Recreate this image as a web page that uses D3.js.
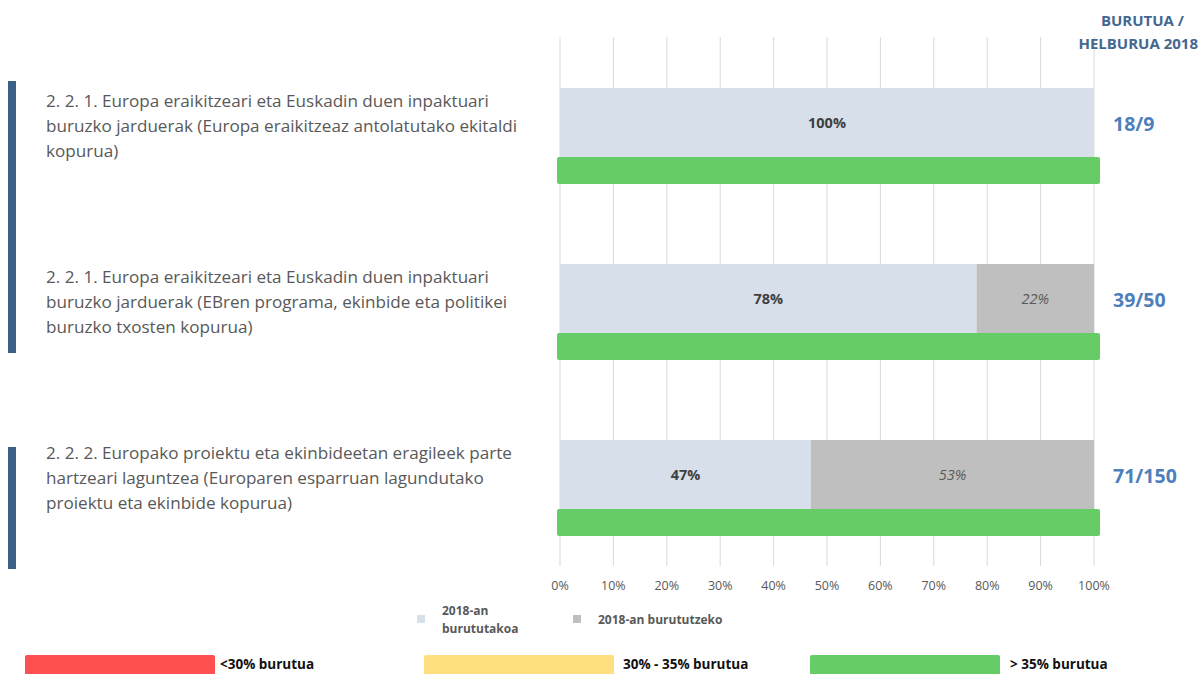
<!DOCTYPE html>
<html>
<head>
<meta charset="utf-8">
<script src="https://cdn.jsdelivr.net/npm/d3@7"></script>
<style>
  body { margin: 0; background: #fff; }
  svg { display: block; font-family: "Open Sans", sans-serif; }
</style>
</head>
<body>
<svg id="chart" width="1201" height="674"></svg>
<script>
// data
var labels = [
  ["2. 2. 1. Europa eraikitzeari eta Euskadin duen inpaktuari",
   "buruzko jarduerak (Europa eraikitzeaz antolatutako ekitaldi",
   "kopurua)"],
  ["2. 2. 1. Europa eraikitzeari eta Euskadin duen inpaktuari",
   "buruzko jarduerak (EBren programa, ekinbide eta politikei",
   "buruzko txosten kopurua)"],
  ["2. 2. 2. Europako proiektu eta ekinbideetan eragileek parte",
   "hartzeari laguntzea (Europaren esparruan lagundutako",
   "proiektu eta ekinbide kopurua)"]
];
var done = [100, 78, 47];
var todo = [0, 22, 53];
var ratio = ["18/9", "39/50", "71/150"];
var ticks = [0, 10, 20, 30, 40, 50, 60, 70, 80, 90, 100];
var groups = [[0, 1], [2, 2]];   // left bars spanning rows
var statusNames = ["<30% burutua", "30% - 35% burutua", "> 35% burutua"];
var statusColors = ["#ff5050", "#ffdf80", "#66cc66"];

var svg = d3.select("#chart");

var x = d3.scaleLinear().domain([0, 100]).range([560, 1094]);
var y = d3.scaleBand().domain(d3.range(3)).range([88, 616]);
var barH = 69, greenH = 27;

// gridlines
svg.append("g").selectAll("line").data(ticks).join("line")
  .attr("x1", function(d){ return x(d); }).attr("x2", function(d){ return x(d); })
  .attr("y1", 37).attr("y2", 566)
  .attr("stroke", "#d9d9d9").attr("stroke-width", 1);

// tick labels
svg.append("g").selectAll("text").data(ticks).join("text")
  .attr("x", function(d){ return x(d); }).attr("y", 590)
  .attr("text-anchor", "middle").attr("font-size", 12.5).attr("fill", "#595959")
  .text(function(d){ return d + "%"; });

var rows = svg.append("g").selectAll("g").data(d3.range(3)).join("g")
  .attr("transform", function(i){ return "translate(0," + y(i) + ")"; });

rows.append("rect")
  .attr("x", x(0)).attr("y", 0)
  .attr("width", function(i){ return x(done[i]) - x(0); })
  .attr("height", barH).attr("fill", "#d6dfea");

rows.append("rect")
  .attr("x", function(i){ return x(done[i]); }).attr("y", 0)
  .attr("width", function(i){ return x(done[i] + todo[i]) - x(done[i]); })
  .attr("height", barH).attr("fill", "#bfbfbf");

rows.append("text")
  .attr("x", function(i){ return (x(0) + x(done[i])) / 2; }).attr("y", barH / 2 + 5)
  .attr("text-anchor", "middle").attr("font-size", 14.5).attr("font-weight", "bold")
  .attr("fill", "#404040")
  .text(function(i){ return done[i] + "%"; });

rows.filter(function(i){ return todo[i] > 0; }).append("text")
  .attr("x", function(i){ return (x(done[i]) + x(100)) / 2; }).attr("y", barH / 2 + 5)
  .attr("text-anchor", "middle").attr("font-size", 14.5).attr("font-style", "italic")
  .attr("fill", "#595959")
  .text(function(i){ return todo[i] + "%"; });

// status bar (all > 35%)
rows.append("rect")
  .attr("x", x(0) - 3).attr("y", barH)
  .attr("width", x(100) - x(0) + 9).attr("height", greenH)
  .attr("rx", 2).attr("fill", statusColors[2]);

rows.append("text")
  .attr("x", 1113).attr("y", barH / 2 + 8)
  .attr("font-size", 19.5).attr("font-weight", "bold")
  .attr("fill", "#4f7fba")
  .text(function(i){ return ratio[i]; });

rows.append("text")
  .attr("x", 46).attr("y", 19)
  .attr("font-size", 17.1).attr("fill", "#595959")
  .selectAll("tspan").data(function(i){ return labels[i]; }).join("tspan")
  .attr("x", 46).attr("dy", function(d, k){ return k === 0 ? 0 : 25; })
  .text(function(d){ return d; });

// left markers
svg.append("g").selectAll("rect").data(groups).join("rect")
  .attr("x", 8).attr("width", 8)
  .attr("y", function(g){ return g[0] === g[1] ? y(g[0]) + 7 : y(g[0]) - 7; })
  .attr("height", function(g){ return g[0] === g[1] ? 122 : y(g[1]) + 89 - (y(g[0]) - 7); })
  .attr("fill", "#3c6088");

// header
var hd = svg.append("text").attr("text-anchor", "end").attr("font-size", 15)
  .attr("font-weight", "bold").attr("fill", "#44678f");
hd.append("tspan").attr("x", 1184).attr("y", 26).text("BURUTUA /");
hd.append("tspan").attr("x", 1198).attr("y", 49).text("HELBURUA 2018");

// series legend
var lg = svg.append("g").attr("font-size", 12).attr("font-weight", "bold").attr("fill", "#595959");
lg.append("rect").attr("x", 417).attr("y", 615).attr("width", 8).attr("height", 8).attr("fill", "#d6dfea");
lg.append("text").attr("x", 442).attr("y", 615).text("2018-an");
lg.append("text").attr("x", 442).attr("y", 633).text("burututakoa");
lg.append("rect").attr("x", 573).attr("y", 615).attr("width", 8).attr("height", 8).attr("fill", "#bfbfbf");
lg.append("text").attr("x", 598).attr("y", 624).text("2018-an burututzeko");

// status legend
var legX = [25, 424, 810];
var legTextX = [220, 623, 1010];
var sl = svg.append("g").selectAll("g").data(d3.range(3)).join("g");
sl.append("rect").attr("x", function(i){ return legX[i]; }).attr("y", 655)
  .attr("width", 190).attr("height", 24).attr("rx", 2)
  .attr("fill", function(i){ return statusColors[i]; });
sl.append("text").attr("x", function(i){ return legTextX[i]; }).attr("y", 669)
  .attr("font-size", 13.5).attr("font-weight", "bold").attr("fill", "#111")
  .text(function(i){ return statusNames[i]; });
</script>
</body>
</html>
